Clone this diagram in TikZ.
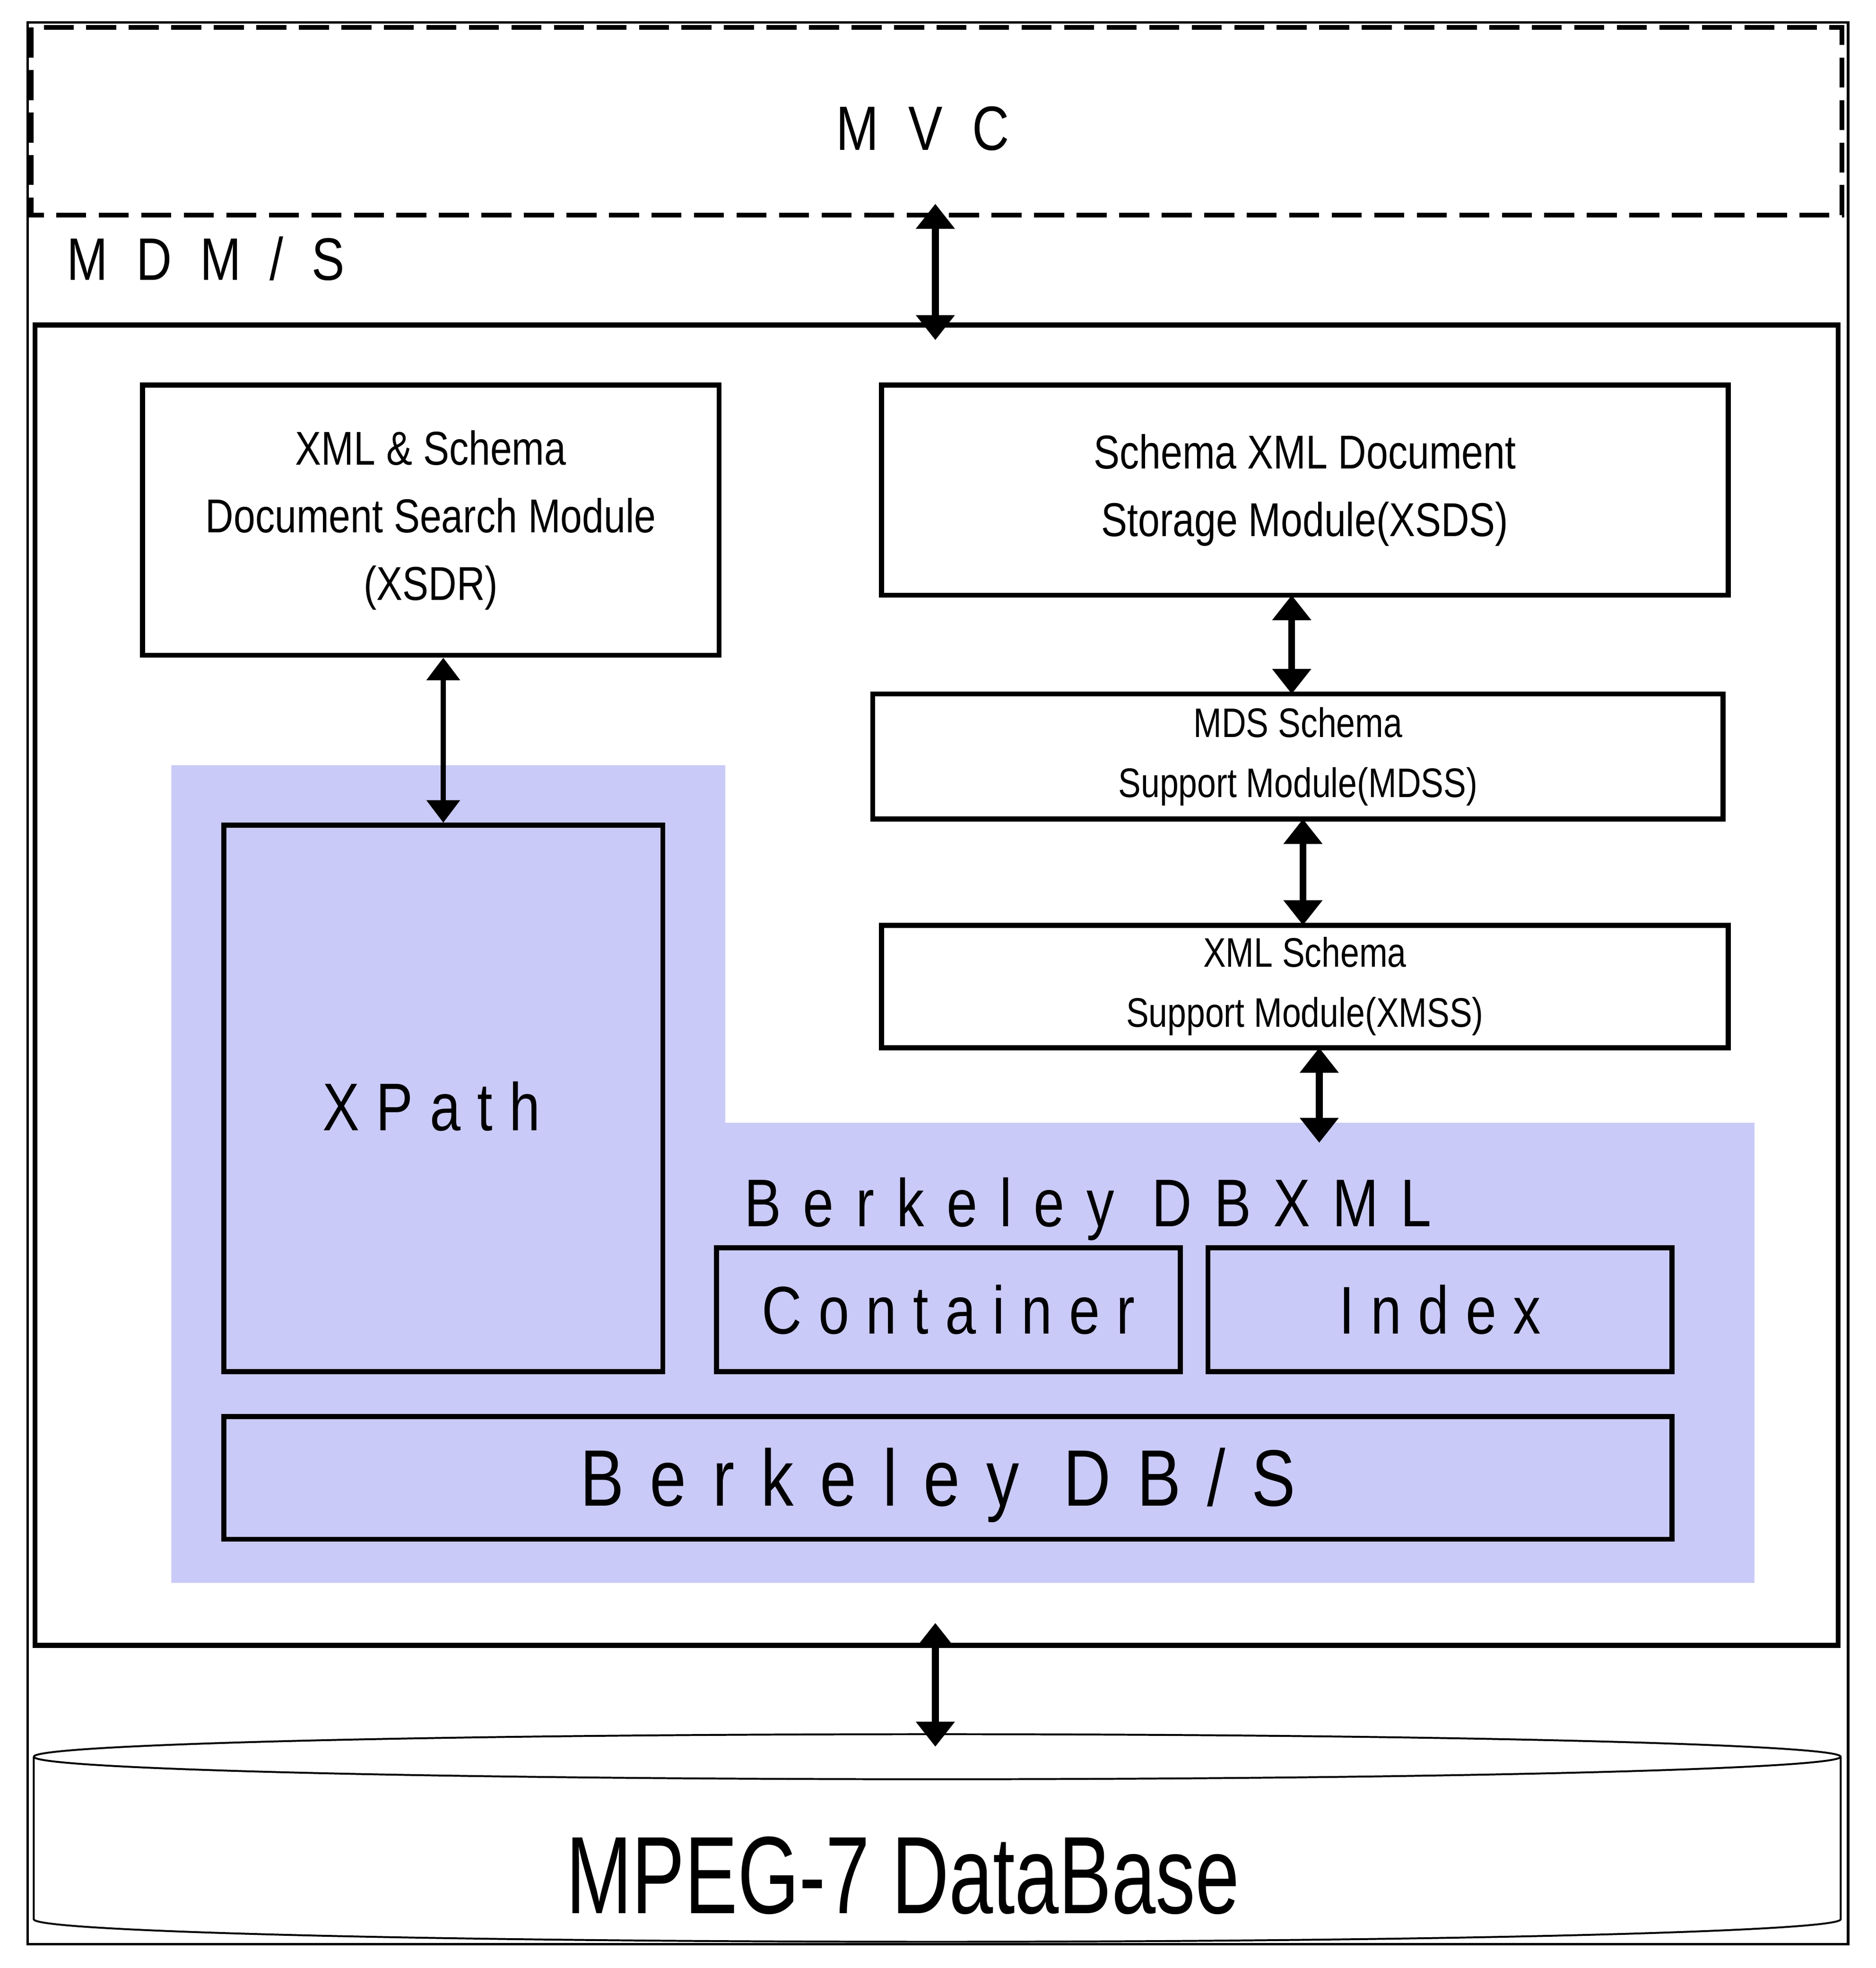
\documentclass[tikz,border=0pt]{standalone}
\usepackage{fontspec}
\setmainfont{Liberation Sans}
\newfontfamily\spw{Liberation Sans}[LetterSpace=30]
\newfontfamily\spx{Liberation Sans}[LetterSpace=40]
\usetikzlibrary{arrows.meta}
\definecolor{blu}{HTML}{CACAF8}
\newcommand{\nar}[1]{\scalebox{0.82}[1]{#1}}
\begin{document}
\begin{tikzpicture}[x=1pt,y=-1pt,
  box/.style={draw,line width=4pt},
  arr/.style={line width=5.5pt,{Triangle[length=20pt,width=30pt]}-{Triangle[length=20pt,width=30pt]}},
  sarr/.style={line width=4pt,{Triangle[length=18pt,width=26pt]}-{Triangle[length=18pt,width=26pt]}},
  lbl/.style={font=\fontsize{38}{54}\selectfont,align=center}]
\useasboundingbox (0,0) rectangle (1500,1574);
\fill[white] (0,0) rectangle (1500,1574);
\draw[line width=2pt] (22,18) rectangle (1478,1555);
\draw[line width=4pt,dash pattern=on 24pt off 10pt] (25,22) rectangle (1473,172);
\node (mvc) at (738,103) {\nar{\spw\fontsize{50}{60}\selectfont M V C}};
\node[anchor=west] (mdms) at (50,207) {\nar{\spw\fontsize{48}{56}\selectfont M D M / S}};
\draw[box] (28,260) rectangle (1470,1316);
\coordinate (inT) at (748,272);
\coordinate (mvB) at (748,163);
\draw[arr] (mvB) -- (inT);
\fill[blu] (137,612) -- (580,612) -- (580,898) -- (1403,898) -- (1403,1266) -- (137,1266) -- cycle;
\node[box,minimum width=461pt,minimum height=216pt,lbl] (xsdr) at (344.5,416) {\nar{XML \& Schema}\\\nar{Document Search Module}\\\nar{(XSDR)}};
\node[box,minimum width=677pt,minimum height=168pt,lbl] (xsds) at (1043.5,392) {\nar{Schema XML Document}\\\nar{Storage Module(XSDS)}};
\node[box,minimum width=680pt,minimum height=100pt,font=\fontsize{33}{48}\selectfont,align=center] (mdss) at (1038,605) {\nar{MDS Schema}\\\nar{Support Module(MDSS)}};
\node[box,minimum width=677pt,minimum height=98pt,font=\fontsize{33}{48}\selectfont,align=center] (xmss) at (1043.5,789) {\nar{XML Schema}\\\nar{Support Module(XMSS)}};
\node[box,minimum width=351pt,minimum height=437pt] (xpath) at (354.5,878.5) {};
\node at (345,885) {\nar{\spw\fontsize{54}{60}\selectfont XPath}};
\node (bdbxml) at (870,967) {\nar{\spx\fontsize{54}{58}\selectfont Berkeley DBXML}};
\node[box,minimum width=371pt,minimum height=99pt] (cont) at (758.5,1047.5) {\nar{\spw\fontsize{54}{60}\selectfont Container}};
\node[box,minimum width=371pt,minimum height=99pt] (idx) at (1151.5,1047.5) {\nar{\spw\fontsize{54}{60}\selectfont Index}};
\node[box,minimum width=1158pt,minimum height=98pt] (bdbs) at (758,1182) {};
\node at (750,1188) {\nar{\spx\fontsize{64}{66}\selectfont Berkeley DB/S}};
\draw[sarr] (xsdr.south -| xpath.north) -- (xpath.north);
\draw[arr] (1033,476) -- (1033,555);
\draw[arr] (1042,655) -- (1042,740);
\coordinate (blT) at (1055,914);
\draw[arr] (1055,838) -- (blT);
\coordinate (dbT) at (748,1397);
\draw[arr] (748,1298) -- (dbT);
\draw[line width=1.5pt] (27,1405) arc[start angle=180,end angle=540,x radius=722.5pt,y radius=18pt];
\draw[line width=1.5pt] (27,1405) -- (27,1535) arc[start angle=180,end angle=360,x radius=722.5pt,y radius=18pt] -- (1472,1405);
\node (db) at (722,1500) {\scalebox{0.72}[1]{\fontsize{88}{96}\selectfont MPEG-7 DataBase}};
\end{tikzpicture}
\end{document}
